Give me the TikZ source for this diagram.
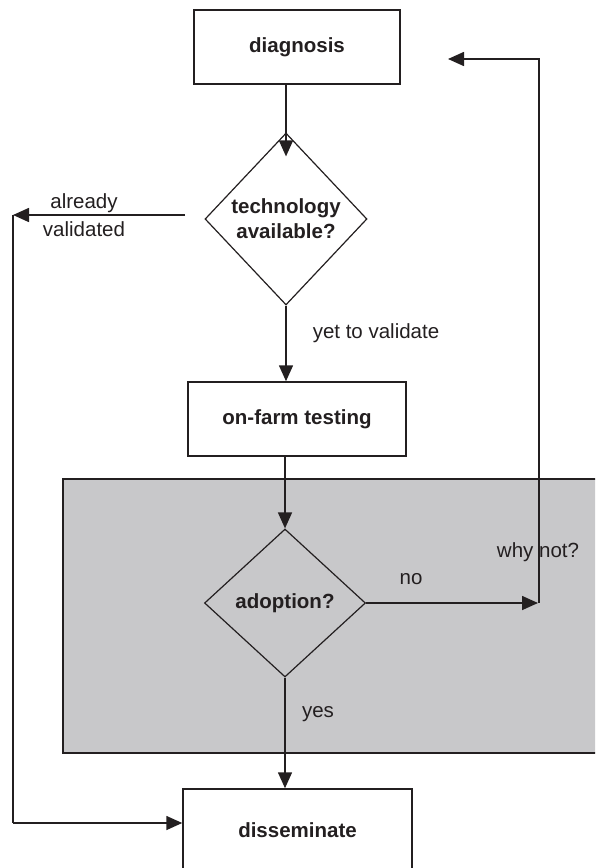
\documentclass[tikz,border=0pt]{standalone}
\usepackage{fontspec}
\setmainfont{Liberation Sans}
\usetikzlibrary{shapes.geometric,arrows.meta}
\definecolor{ink}{HTML}{231F20}
\definecolor{panel}{HTML}{C8C8CA}
\tikzset{
  every node/.style={font=\fontsize{20.5}{28}\selectfont, text=ink},
  stepbox/.style={draw=ink, line width=1.5pt, rectangle, inner sep=0pt, font=\fontsize{20.5}{28}\selectfont\bfseries},
  decision/.style={draw=ink, line width=1.2pt, diamond, inner sep=0pt, align=center, font=\fontsize{20.5}{25}\selectfont\bfseries},
  flow/.style={draw=ink, line width=1.6pt},
  arr/.style={flow, -{Triangle[length=16pt,width=14pt]}},
  lbl/.style={inner sep=0pt, align=center}
}
\begin{document}
\begin{tikzpicture}[x=1pt,y=-1pt]
\useasboundingbox (0,0) rectangle (595,868);
\clip (0,0) rectangle (595,868);

% shaded panel around the adoption decision
\draw[draw=ink, line width=2pt, fill=panel] (63,479) rectangle (598,753);

% process steps
\node[stepbox, minimum width=206pt, minimum height=74pt] (diag) at (297,47) {diagnosis};
\node[decision, minimum width=162pt, minimum height=172pt] (tech) at (286,219) {technology\\available?};
\node[stepbox, minimum width=218pt, minimum height=74pt] (farm) at (297,419) {on-farm testing};
\node[decision, minimum width=161pt, minimum height=148pt] (adopt) at (285,603) {adoption?};
\node[stepbox, minimum width=229pt, minimum height=83pt] (dissem) at (297.5,830.5) {disseminate};

% loop corners
\coordinate (lstart) at (185,215);
\coordinate (ltop) at (13,215);
\coordinate (lbot) at (13,823);
\coordinate (rjoin) at (539,603);
\coordinate (rtop) at (539,59);
\coordinate (rend) at (448,59);

% main flow
\draw[arr] (diag.south -| tech.north) -- ([yshift=-24pt]tech.north);
\draw[arr] (tech.south) -- (tech.south |- farm.north);
\draw[arr] (farm.south -| adopt.north) -- (adopt.north);
\draw[arr] (adopt.south) -- (adopt.south |- dissem.north);

% already validated: straight to dissemination
\draw[arr] (lstart) -- (ltop);
\draw[flow] (ltop) -- (lbot);
\draw[arr] (lbot) -- (lbot -| dissem.west);

% not adopted: back to diagnosis
\draw[arr] (adopt.east) -- ([xshift=-1pt]rjoin);
\draw[arr] (rjoin) -- (rtop) -- (rend);

% labels
\node[lbl] (lalready) at (84,215) {already\\validated};
\node[lbl] (lyet) at (376,333) {yet to validate};
\node[lbl] (lno) at (411,579) {no};
\node[lbl] (lwhy) at (538,552) {why not?};
\node[lbl] (lyes) at (318,714) {yes};
\end{tikzpicture}
\end{document}
